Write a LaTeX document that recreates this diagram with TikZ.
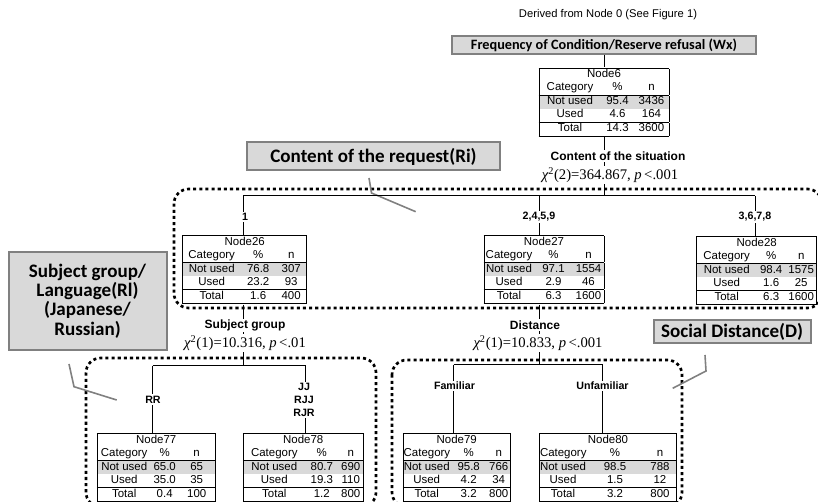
\PassOptionsToPackage{table}{xcolor}
\documentclass[tikz,border=0pt]{standalone}
\usepackage{fontspec}
\usepackage{array}
\setmainfont{Liberation Sans}
\newfontfamily\calfont{Carlito}
\newfontfamily\serffont{Liberation Serif}

\definecolor{boxgray}{HTML}{D9D9D9}
\definecolor{rimgray}{HTML}{808080}
\definecolor{rowgray}{HTML}{D9D9D9}

\newdimen\tpx \tpx=0.75pt
\newcolumntype{C}[1]{>{\centering\arraybackslash}p{#1\tpx}}
\setlength{\arrayrulewidth}{0.7pt}

% node table: column spec, title, not used %/n, used %/n, total %/n
\newcommand{\ctab}[8]{{\setlength{\tabcolsep}{0pt}%
\begin{tabular}{|#1|}\hline
\multicolumn{3}{|c|}{#2}\\
Category & \% & n\\\hline
\rowcolor{rowgray}Not used & #3 & #4\\
Used & #5 & #6\\\hline
Total & #7 & #8\\\hline
\end{tabular}}}

\newcommand{\chisq}[3]{{\itshape χ}\textsuperscript{2}(#1)=#2, {\itshape p}\,<#3}

\begin{document}
\begin{tikzpicture}[x=0.75pt,y=-0.75pt,
tab/.style={inner sep=0pt, anchor=north, font=\fontsize{8.6}{9.8}\selectfont},
split/.style={inner sep=1pt, fill=white, font=\bfseries\fontsize{9}{10}\selectfont},
branch/.style={inner sep=1pt, fill=white, align=center, font=\bfseries\fontsize{8}{10}\selectfont},
chitext/.style={inner sep=1pt, fill=white, font=\serffont\fontsize{11}{12}\selectfont},
callout/.style={draw=rimgray, fill=boxgray, line width=1.5pt, align=center, inner sep=0pt, font=\calfont\bfseries\fontsize{14.3}{14.6}\selectfont},
region/.style={line width=2pt, dash pattern=on 2.3pt off 2.3pt, rounded corners=11pt},
pointer/.style={draw=rimgray, line width=1.2pt},
link/.style={line width=0.75pt}]
\useasboundingbox (0,0) rectangle (818,502);
\clip (0,0) rectangle (818,502);

% dotted groups
\draw[region] (174,189) rectangle (822,308);
\draw[region] (86,358) rectangle (376,507);
\draw[region] (392,360) rectangle (682,507);

% callouts
\node[callout, font=\calfont\bfseries\fontsize{10.7}{11}\selectfont, minimum width=304\tpx, minimum height=18\tpx] (hdr) at (604,45) {Frequency of Condition/Reserve refusal (Wx)};
\node[callout, minimum width=253\tpx, minimum height=28\tpx] (req) at (373.5,156.5) {Content of the request(Ri)};
\node[callout, minimum width=158\tpx, minimum height=98\tpx] (subj) at (87.5,301) {Subject group/\\Language(Rl)\\(Japanese/\\Russian)};
\node[callout, minimum width=157\tpx, minimum height=23\tpx] (soc) at (732,332) {Social Distance(D)};
\coordinate (reqa) at (369,178);
\coordinate (reqb) at (371.5,193);
\coordinate (reqc) at (415.7,211.7);
\coordinate (subja) at (69,364);
\coordinate (subjb) at (74,386.7);
\coordinate (subjc) at (116.7,400);
\coordinate (soca) at (705,355);
\coordinate (socb) at (706,371);
\coordinate (socc) at (672.7,388.3);
\draw[pointer] (reqa) -- (reqb) -- (reqc);
\draw[pointer] (subja) -- (subjb) -- (subjc);
\draw[pointer] (soca) -- (socb) -- (socc);

\node (drv) at (608,15) {\fontsize{8.4}{9}\selectfont Derived from Node 0 (See Figure 1)};

% tables
\node[tab] (n6) at (604,67.5) {\ctab{C{61}C{34}C{34}}{Node6}{95.4}{3436}{4.6}{164}{14.3}{3600}};
\node[tab] (n26) at (244.7,235) {\ctab{C{57}C{36}C{30}}{Node26}{76.8}{307}{23.2}{93}{1.6}{400}};
\node[tab] (n27) at (544,235) {\ctab{C{49}C{40}C{30}}{Node27}{97.1}{1554}{2.9}{46}{6.3}{1600}};
\node[tab] (n28) at (756.7,236) {\ctab{C{59}C{30}C{30}}{Node28}{98.4}{1575}{1.6}{25}{6.3}{1600}};
\node[tab] (n77) at (156.2,433) {\ctab{C{53}C{28}C{36}}{Node77}{65.0}{65}{35.0}{35}{0.4}{100}};
\node[tab] (n78) at (303.3,433) {\ctab{C{61}C{34}C{24}}{Node78}{80.7}{690}{19.3}{110}{1.2}{800}};
\node[tab] (n79) at (456.7,433) {\ctab{C{46}C{38}C{22}}{Node79}{95.8}{766}{4.2}{34}{3.2}{800}};
\node[tab] (n80) at (608,433) {\ctab{C{46}C{58}C{32}}{Node80}{98.5}{788}{1.5}{12}{3.2}{800}};

% tree lines
\coordinate (b6) at (604,196);
\coordinate (b26) at (243,196);
\coordinate (b27) at (539,196);
\coordinate (b28) at (755,196);
\coordinate (s26) at (243,366);
\coordinate (b77) at (152.5,366);
\coordinate (b78) at (305.5,366);
\coordinate (s27) at (539,365);
\coordinate (b79) at (453.5,365);
\coordinate (b80) at (602.5,365);
\draw[link] (hdr.south) -- (n6.north);
\draw[link] (n6.south) -- (b6);
\draw[link] (b26) -- (b28);
\draw[link] (b26) -- (b26 |- n26.north);
\draw[link] (b27) -- (b27 |- n27.north);
\draw[link] (b28) -- (b28 |- n28.north);
\draw[link] (b26 |- n26.south) -- (s26);
\draw[link] (b77) -- (b78);
\draw[link] (b77) -- (b77 |- n77.north);
\draw[link] (b78) -- (b78 |- n78.north);
\draw[link] (b27 |- n27.south) -- (s27);
\draw[link] (b79) -- (b80);
\draw[link] (b79) -- (b79 |- n79.north);
\draw[link] (b80) -- (b80 |- n80.north);

% split and branch labels
\node[split] (sit) at (618,156) {Content of the situation};
\node[chitext] (chi6) at (610,175) {\chisq{2}{364.867}{.001}};
\node[split] (sg) at (245,325.5) {Subject group};
\node[chitext] (chi26) at (245,343) {\chisq{1}{10.316}{.01}};
\node[split] (dist) at (535,325) {Distance};
\node[chitext] (chi27) at (538,343) {\chisq{1}{10.833}{.001}};
\node[branch] (l26) at (245,217) {1};
\node[branch] (l27) at (539,217) {2,4,5,9};
\node[branch] (l28) at (755,217) {3,6,7,8};
\node[branch] (l77) at (153,399.5) {RR};
\node[branch] (l78) at (304,400) {JJ\\RJJ\\RJR};
\node[branch] (l79) at (454.5,386) {Familiar};
\node[branch] (l80) at (602.5,386) {Unfamiliar};
\end{tikzpicture}
\end{document}
